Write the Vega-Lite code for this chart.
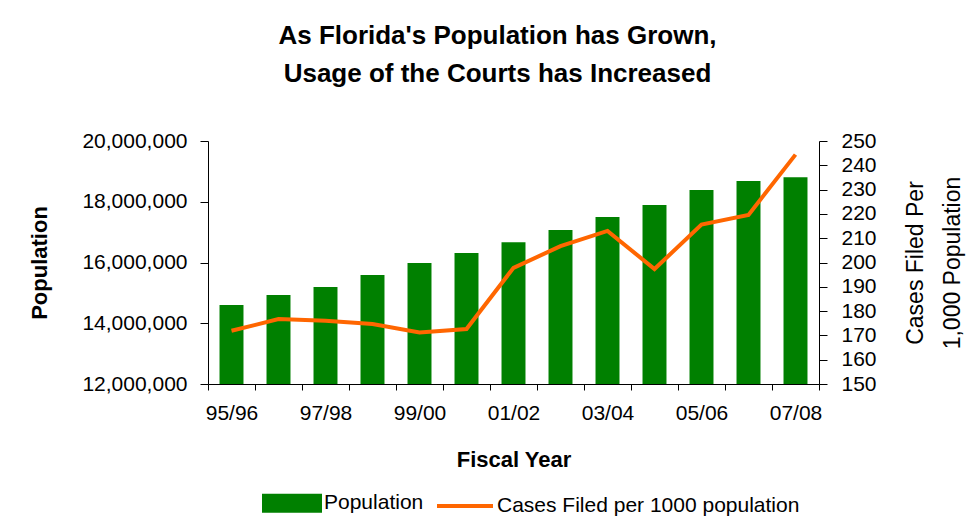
{
  "$schema": "https://vega.github.io/schema/vega-lite/v6.json",
  "autosize": "none",
  "width": 611,
  "height": 243,
  "padding": {"left": 208, "top": 141, "right": 152, "bottom": 137},
  "background": "white",
  "config": {
    "font": "Liberation Sans, Arial, sans-serif",
    "view": {"stroke": null},
    "axis": {"grid": false, "domainColor": "#000", "tickColor": "#000", "labelColor": "#000", "titleColor": "#000", "labelFontSize": 21, "titleFontSize": 22, "titleFontWeight": "bold", "labelFont": "Liberation Sans, Arial, sans-serif", "titleFont": "Liberation Sans, Arial, sans-serif"},
    "legend": {"labelFont": "Liberation Sans, Arial, sans-serif"}
  },
  "title": {
    "text": ["As Florida's Population has Grown,", "Usage of the Courts has Increased"],
    "fontSize": 26,
    "fontWeight": "bold",
    "color": "#000",
    "lineHeight": 38,
    "anchor": "middle",
    "dx": -16,
    "offset": 43,
    "font": "Liberation Sans, Arial, sans-serif"
  },
  "data": {
    "values": [
      {"year": "95/96", "population": 14600000, "cases": 171.9},
      {"year": "96/97", "population": 14930000, "cases": 176.7},
      {"year": "97/98", "population": 15190000, "cases": 176.0},
      {"year": "98/99", "population": 15590000, "cases": 174.7},
      {"year": "99/00", "population": 15980000, "cases": 171.2},
      {"year": "00/01", "population": 16310000, "cases": 172.6},
      {"year": "01/02", "population": 16670000, "cases": 197.8},
      {"year": "02/03", "population": 17070000, "cases": 206.7},
      {"year": "03/04", "population": 17500000, "cases": 213.0},
      {"year": "04/05", "population": 17890000, "cases": 197.3},
      {"year": "05/06", "population": 18390000, "cases": 215.6},
      {"year": "06/07", "population": 18680000, "cases": 219.6},
      {"year": "07/08", "population": 18810000, "cases": 244.4}
    ]
  },
  "encoding": {
    "x": {
      "field": "year",
      "type": "nominal",
      "sort": null,
      "scale": {"paddingInner": 0, "paddingOuter": 0},
      "axis": {
        "title": "Fiscal Year",
        "labelAngle": 0,
        "tickBand": "extent",
        "tickSize": 6,
        "labelPadding": 12,
        "titlePadding": 26,
        "labelExpr": "test(/^(95|97|99|01|03|05|07)/, datum.value) ? datum.label : ''"
      }
    }
  },
  "layer": [
    {
      "mark": {"type": "bar", "width": {"band": 0.51}, "clip": true},
      "encoding": {
        "y": {
          "field": "population",
          "type": "quantitative",
          "scale": {"domain": [12000000, 20000000], "nice": false, "zero": false},
          "axis": {
            "title": "Population",
            "values": [12000000, 14000000, 16000000, 18000000, 20000000],
            "format": ",d",
            "tickSize": 8,
            "labelPadding": 13,
            "titlePadding": 30
          }
        },
        "color": {
          "datum": "Population",
          "type": "nominal",
          "scale": {"domain": ["Population", "Cases Filed per 1000 population"], "range": ["#008000", "#ff6600"]},
          "legend": {
            "title": null,
            "orient": "none",
            "legendX": 54,
            "legendY": 332,
            "direction": "horizontal",
            "labelFontSize": 21,
            "labelColor": "#000",
            "symbolSize": 3136,
            "labelOffset": 2,
            "columnPadding": 5,
            "labelLimit": 400,
            "encode": {
              "symbols": {
                "update": {
                  "shape": {"signal": "datum.value === 'Population' ? 'M-1,-0.27H1V0.27H-1Z' : 'M-1,0H1'"},
                  "fill": {"signal": "datum.value === 'Population' ? '#008000' : 'transparent'"},
                  "stroke": {"signal": "datum.value === 'Population' ? 'transparent' : '#ff6600'"},
                  "strokeWidth": {"value": 4},
                  "opacity": {"value": 1}
                }
              }
            }
          }
        }
      }
    },
    {
      "mark": {"type": "line", "strokeWidth": 4, "color": "#ff6600"},
      "encoding": {
        "y": {
          "field": "cases",
          "type": "quantitative",
          "scale": {"domain": [150, 250], "nice": false, "zero": false},
          "axis": {
            "orient": "right",
            "title": ["Cases Filed Per", "1,000 Population"],
            "titleAngle": 270,
            "titleFontWeight": "normal",
            "titleFontSize": 23,
            "titleLineHeight": 37,
            "values": [150, 160, 170, 180, 190, 200, 210, 220, 230, 240, 250],
            "tickSize": 8,
            "labelPadding": 14,
            "titlePadding": 14
          }
        },
        "color": {"datum": "Cases Filed per 1000 population", "type": "nominal"}
      }
    }
  ],
  "resolve": {"scale": {"y": "independent"}}
}
